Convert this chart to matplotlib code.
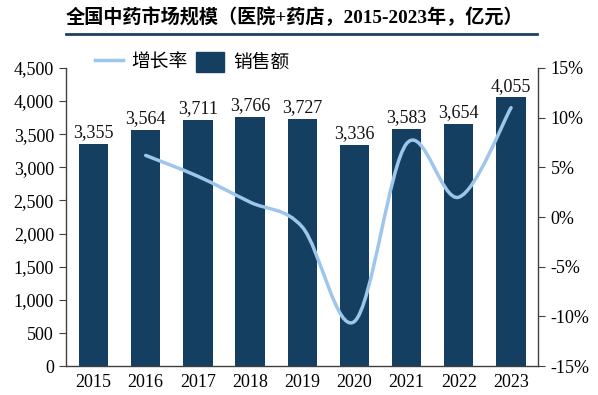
import numpy as np
import matplotlib
matplotlib.use('Agg')
from matplotlib import pyplot as plt
from matplotlib.path import Path
from matplotlib.patches import PathPatch, Patch
from matplotlib.lines import Line2D

years = ['2015', '2016', '2017', '2018', '2019', '2020', '2021', '2022', '2023']
sales = [3355, 3564, 3711, 3766, 3727, 3336, 3583, 3654, 4055]
# growth rate (%) from 2016 on
growth = [6.2, 4.1, 1.5, -1.0, -10.5, 7.4, 2.0, 11.0]

bar_color = '#143f60'
line_color = '#9dc6ea'
serif = ['Liberation Serif', 'Noto Sans CJK SC']
cjk = ['Noto Sans CJK SC', 'DejaVu Sans']

plt.rcParams['font.family'] = serif

fig = plt.figure(figsize=(5.98, 3.95), dpi=100)
ax = fig.add_axes([0.111, 0.073, 0.789, 0.755])
ax2 = ax.twinx()

x = np.arange(len(years))
ax.bar(x, sales, width=0.56, color=bar_color, zorder=2)
for xi, v in zip(x, sales):
    ax.text(xi, v + 40, f'{v:,}', ha='center', va='bottom', fontsize=13, color='#111111')

ax.set_xlim(-0.52, len(years) - 0.48)
ax.set_ylim(0, 4500)
ax.set_yticks(range(0, 4501, 500))
ax.set_yticklabels([f'{v:,}' for v in range(0, 4501, 500)])
ax.set_xticks(x)
ax.set_xticklabels(years)
ax.tick_params(axis='x', length=0, labelsize=13, pad=6)
ax.tick_params(axis='y', length=5, labelsize=13, direction='out', color='#404040', pad=4)

# smoothed growth line (catmull-rom style bezier through the points)
gx = x[1:]
gy = np.array(growth, dtype=float)
verts = [(gx[0], gy[0])]
codes = [Path.MOVETO]
n = len(gx)
for i in range(n - 1):
    p0 = (gx[max(i - 1, 0)], gy[max(i - 1, 0)])
    p1 = (gx[i], gy[i])
    p2 = (gx[i + 1], gy[i + 1])
    p3 = (gx[min(i + 2, n - 1)], gy[min(i + 2, n - 1)])
    c1 = (p1[0] + (p2[0] - p0[0]) / 6, p1[1] + (p2[1] - p0[1]) / 6)
    c2 = (p2[0] - (p3[0] - p1[0]) / 6, p2[1] - (p3[1] - p1[1]) / 6)
    verts += [c1, c2, p2]
    codes += [Path.CURVE4] * 3
ax2.add_patch(PathPatch(Path(verts, codes), fill=False, edgecolor=line_color,
                        linewidth=2.5, capstyle='round', zorder=3))

ax2.set_ylim(-15, 15)
ax2.set_yticks(range(-15, 16, 5))
ax2.set_yticklabels([f'{v}%' for v in range(-15, 16, 5)])
ax2.tick_params(axis='y', length=5, labelsize=13, direction='out', color='#404040', pad=4)

for a in (ax, ax2):
    a.spines['top'].set_visible(False)
    for s in ('left', 'right', 'bottom'):
        a.spines[s].set_color('#404040')
        a.spines[s].set_linewidth(1)
ax.spines['right'].set_visible(False)
ax2.spines['left'].set_visible(False)
ax2.spines['bottom'].set_visible(False)

handles = [Line2D([0], [0], color=line_color, lw=2.5),
           Patch(facecolor=bar_color, edgecolor=bar_color)]
leg = ax.legend(handles, ['增长率', '销售额'], loc='upper left', bbox_to_anchor=(0.045, 1.08),
                ncol=2, frameon=False, borderaxespad=0, prop={'family': cjk, 'size': 13.5},
                handlelength=1.5, handleheight=1.3, columnspacing=0.45, handletextpad=0.45)

fig.text(0.110, 0.955, '全国中药市场规模（医院+药店，2015-2023年，亿元）', ha='left', va='center',
         fontsize=13.8, fontweight='bold', family=serif)
fig.add_artist(Line2D([0.110, 0.898], [0.915, 0.915], color='#1f3f66', lw=2))

fig.savefig('out.png', dpi=100)
